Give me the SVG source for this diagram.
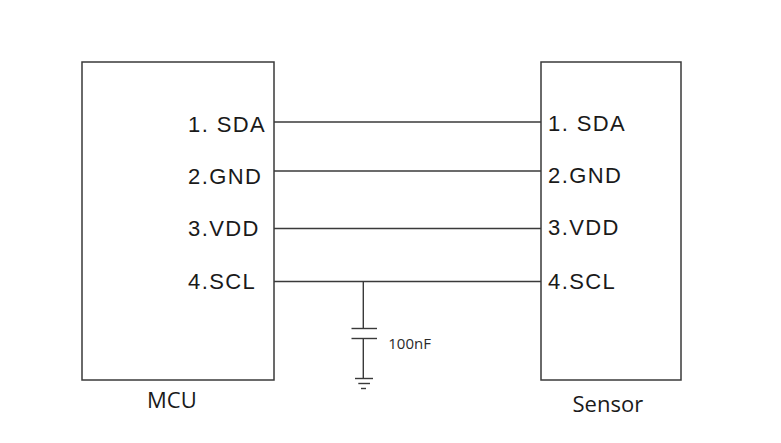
<svg xmlns="http://www.w3.org/2000/svg" width="781" height="443" viewBox="0 0 781 443">
<style>
.box{fill:none;stroke:#3a3a3a;stroke-width:1.5}
.pin{font-family:"Liberation Sans",Arial,sans-serif;font-size:22px;letter-spacing:1.4px;fill:#1a1a1a}
.title{font-family:"Open Sans","Noto Sans",sans-serif;font-size:22px;fill:#1a1a1a}
.wire{stroke:#3a3a3a;stroke-width:1.4;fill:none}
.small{font-family:"Open Sans","Noto Sans",sans-serif;font-size:15px;fill:#2a2a2a}
</style>
<rect width="781" height="443" fill="#ffffff"/>
<g id="mcu">
<rect class="box" x="82" y="62" width="192" height="318"/>
<text class="pin" x="188" y="131.5">1. SDA</text>
<text class="pin" x="188" y="183.5">2.GND</text>
<text class="pin" x="188" y="235.5">3.VDD</text>
<text class="pin" x="188" y="289">4.SCL</text>
<text class="title" x="147" y="407.5">MCU</text>
</g>
<g id="sensor">
<rect class="box" x="541" y="62" width="140" height="318"/>
<text class="pin" x="548" y="131">1. SDA</text>
<text class="pin" x="548" y="183">2.GND</text>
<text class="pin" x="548" y="235">3.VDD</text>
<text class="pin" x="548" y="288.5">4.SCL</text>
<text class="title" x="572.5" y="411.5">Sensor</text>
</g>
<g id="capacitor">
<line class="wire" x1="363.3" y1="281.5" x2="363.3" y2="328.5"/>
<line class="wire" x1="351.5" y1="328.5" x2="377" y2="328.5"/>
<line class="wire" x1="351.5" y1="338.5" x2="377" y2="338.5"/>
<line class="wire" x1="363.3" y1="338.5" x2="363.3" y2="378.5"/>
<line class="wire" x1="355" y1="378.5" x2="373" y2="378.5"/>
<line class="wire" x1="358.3" y1="383.5" x2="370" y2="383.5"/>
<line class="wire" x1="361" y1="388.5" x2="366" y2="388.5"/>
<text class="small" x="388.3" y="349">100nF</text>
</g>
<g id="connectors">
<line class="wire" x1="274" y1="122" x2="541" y2="122"/>
<line class="wire" x1="274" y1="171" x2="541" y2="171"/>
<line class="wire" x1="274" y1="228.5" x2="541" y2="228.5"/>
<line class="wire" x1="274" y1="281.5" x2="541" y2="281.5"/>
</g>
</svg>
